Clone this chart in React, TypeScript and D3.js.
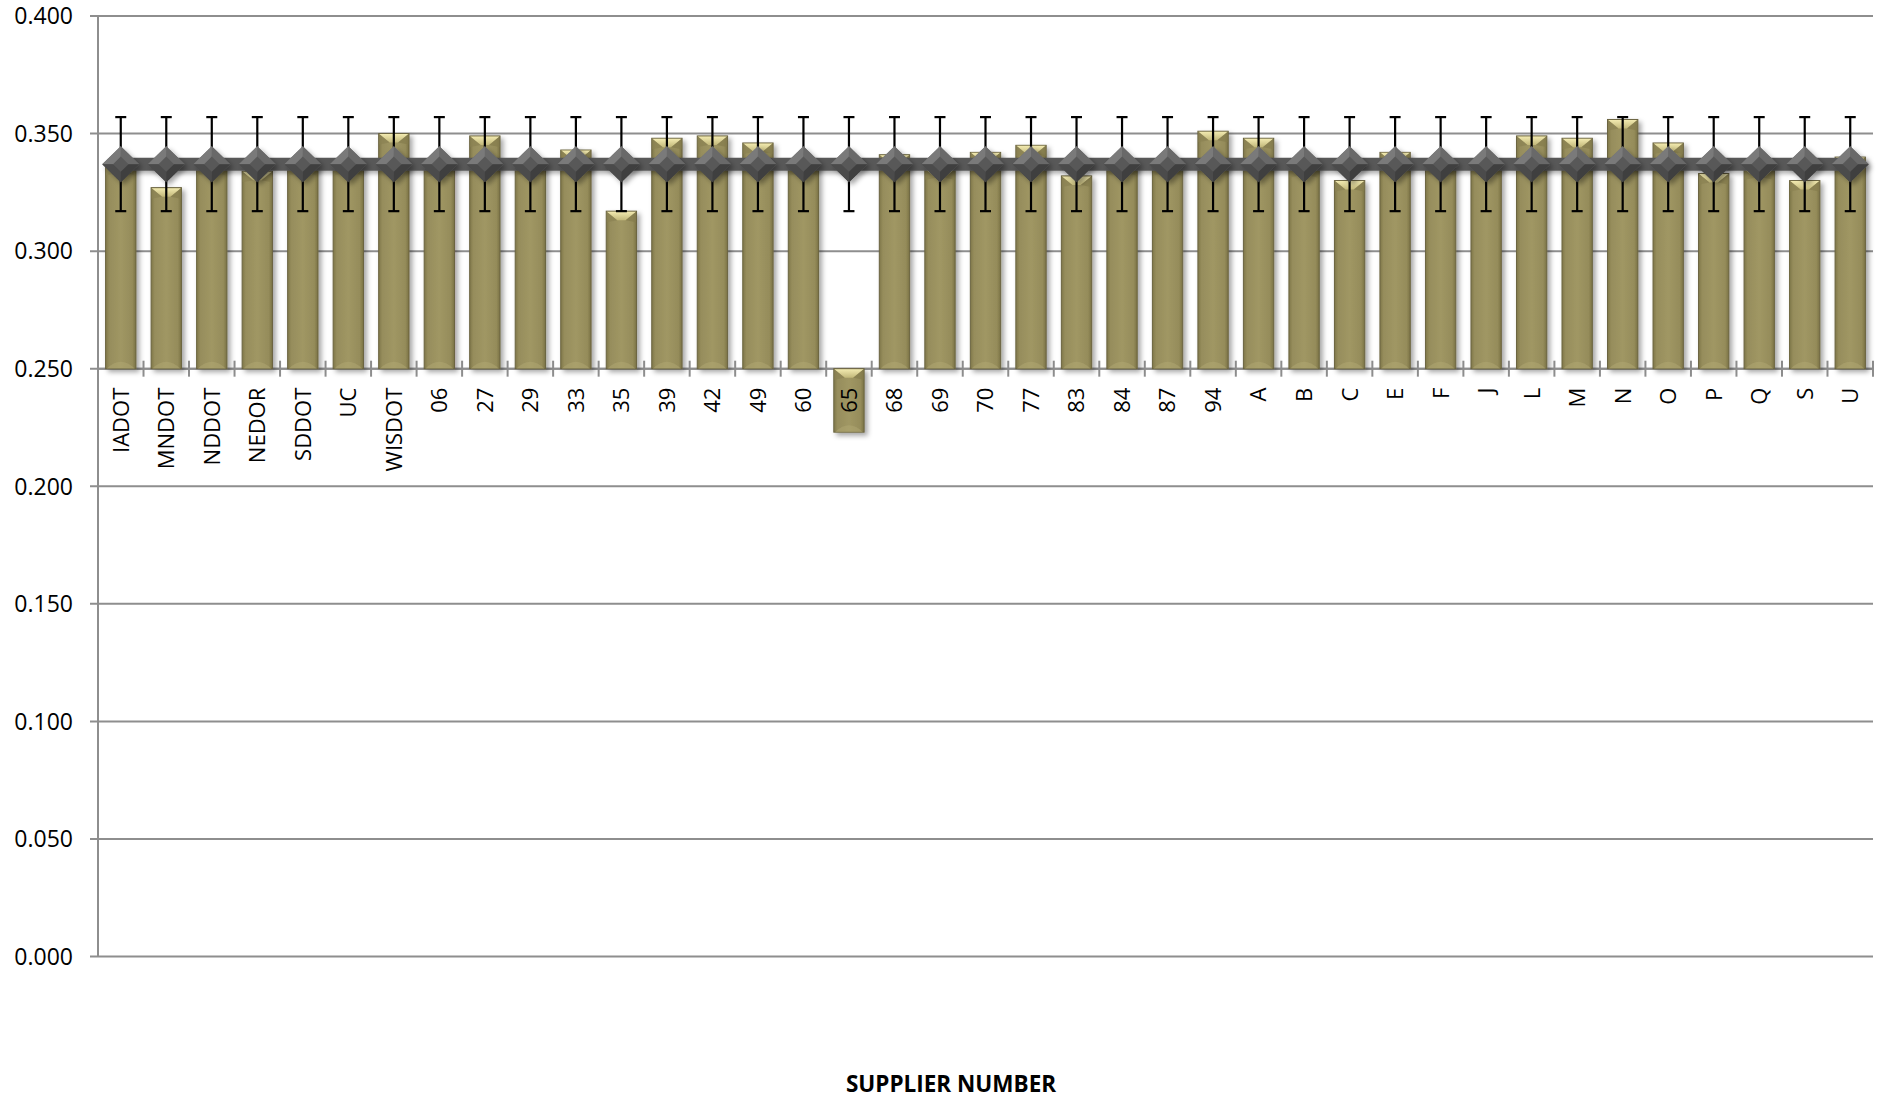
import React from "react"
import * as d3 from "d3"

// supplier categories along the bottom axis
const categories = [
    "IADOT", "MNDOT", "NDDOT", "NEDOR", "SDDOT", "UC", "WISDOT", "06", "27", "29",
    "33", "35", "39", "42", "49", "60", "65", "68", "69", "70",
    "77", "83", "84", "87", "94", "A", "B", "C", "E", "F",
    "J", "L", "M", "N", "O", "P", "Q", "S", "U",
]

// bar series
const supplierValues = [
    0.337, 0.327, 0.337, 0.334, 0.337, 0.337, 0.350, 0.336, 0.349, 0.337,
    0.343, 0.317, 0.348, 0.349, 0.346, 0.337, 0.223, 0.341, 0.335, 0.342,
    0.345, 0.332, 0.337, 0.337, 0.351, 0.348, 0.336, 0.330, 0.342, 0.337,
    0.337, 0.349, 0.348, 0.356, 0.346, 0.333, 0.335, 0.330, 0.340,
]

// line series: overall mean, with +/- error bars
const meanValues = [
    0.337, 0.337, 0.337, 0.337, 0.337, 0.337, 0.337, 0.337, 0.337, 0.337,
    0.337, 0.337, 0.337, 0.337, 0.337, 0.337, 0.337, 0.337, 0.337, 0.337,
    0.337, 0.337, 0.337, 0.337, 0.337, 0.337, 0.337, 0.337, 0.337, 0.337,
    0.337, 0.337, 0.337, 0.337, 0.337, 0.337, 0.337, 0.337, 0.337,
]
const meanError = 0.02

const yTicks = [0, 0.05, 0.1, 0.15, 0.2, 0.25, 0.3, 0.35, 0.4]
const axisCross = 0.25
const xTitle = "SUPPLIER NUMBER"

const width = 1884
const height = 1098
const margin = {top: 16, right: 11, bottom: 141.5, left: 98}
const font = "'Open Sans', 'DejaVu Sans', sans-serif"
const gridColor = "#8e8e8e"

const App = () => {
    const xScale = d3.scaleBand<string>()
        .domain(categories)
        .range([margin.left, width - margin.right])
        .paddingInner(1 / 3)
        .paddingOuter(1 / 6)
    const yScale = d3.scaleLinear()
        .domain([0, 0.4])
        .range([height - margin.bottom, margin.top])

    const bw = xScale.bandwidth()
    const step = xScale.step()
    const yBase = yScale(axisCross)
    const fmt = d3.format(".3f")

    const line = d3.line<number>()
        .x((_, i) => xScale(categories[i])! + bw / 2)
        .y(d => yScale(d))

    const dw = 18.5
    const dh = 18

    return (
        <svg width={width} height={height} style={{position: "absolute", left: 0, top: 0, background: "#fff"}}>
            <defs>
                <linearGradient id="barBody" x1="0" x2="1" y1="0" y2="0">
                    <stop offset="0" stopColor="#7f7749"/>
                    <stop offset="0.12" stopColor="#968d5c"/>
                    <stop offset="0.5" stopColor="#a09764"/>
                    <stop offset="0.88" stopColor="#958c5a"/>
                    <stop offset="1" stopColor="#7a7245"/>
                </linearGradient>
                <linearGradient id="bevelTop" x1="0" x2="0" y1="0" y2="1">
                    <stop offset="0" stopColor="#f2eab0"/>
                    <stop offset="1" stopColor="#c2b87a"/>
                </linearGradient>
                <linearGradient id="diamondGrad" x1="0" x2="0" y1="0" y2="1">
                    <stop offset="0" stopColor="#7c7c7c"/>
                    <stop offset="0.5" stopColor="#5a5a5a"/>
                    <stop offset="1" stopColor="#3a3a3a"/>
                </linearGradient>
                <filter id="shadow" x="-30%" y="-10%" width="160%" height="130%">
                    <feDropShadow dx="3" dy="3" stdDeviation="2.5" floodColor="#000" floodOpacity="0.35"/>
                </filter>
                <filter id="lineShadow" filterUnits="userSpaceOnUse" x={0} y={0} width={width} height={height}>
                    <feDropShadow dx="2" dy="3" stdDeviation="2" floodColor="#000" floodOpacity="0.3"/>
                </filter>
            </defs>

            {/* horizontal gridlines + outside ticks */}
            {yTicks.map(t => (
                <g key={t}>
                    <line x1={margin.left - 8} x2={width - margin.right} y1={yScale(t)} y2={yScale(t)}
                          stroke={gridColor} strokeWidth={2}/>
                    <text x={73} y={yScale(t)} dy="0.36em" textAnchor="end" fontFamily={font}
                          fontSize={23} fill="#000">{fmt(t)}</text>
                </g>
            ))}
            <line x1={margin.left} x2={margin.left} y1={margin.top} y2={height - margin.bottom}
                  stroke={gridColor} strokeWidth={2}/>

            {/* category axis crossing at 0.250 */}
            <line x1={margin.left} x2={width - margin.right} y1={yBase} y2={yBase} stroke={gridColor} strokeWidth={2}/>
            {d3.range(categories.length + 1).map(i => {
                const x = margin.left + i * step
                return <line key={i} x1={x} x2={x} y1={yBase - 8} y2={yBase + 8} stroke={gridColor} strokeWidth={2}/>
            })}

            {/* bars */}
            {categories.map((c, i) => {
                const v = supplierValues[i]
                const x = xScale(c)!
                const yv = yScale(v)
                const top = Math.min(yv, yBase)
                const h = Math.abs(yv - yBase)
                const bh = Math.min(9, h / 2)
                const inset = bw * 0.36
                return (
                    <g key={c}>
                        <rect x={x} y={top} width={bw} height={h} fill="url(#barBody)" stroke="#6b6440"
                              strokeWidth={1} filter="url(#shadow)"/>
                        <path d={`M${x + 1},${top + h} Q${x + bw / 2},${top + h - 14} ${x + bw - 1},${top + h} Z`}
                              fill="#b3aa76" opacity={0.45}/>
                        <polygon
                            points={`${x + 0.5},${top + 0.5} ${x + bw - 0.5},${top + 0.5} ${x + bw - inset},${top + bh} ${x + inset},${top + bh}`}
                            fill="url(#bevelTop)"/>
                        <polygon points={`${x + 0.5},${top + 0.5} ${x + inset},${top + bh} ${x + 0.5},${top + bh + 2}`}
                                 fill="#8a8252" opacity={0.7}/>
                        <polygon
                            points={`${x + bw - 0.5},${top + 0.5} ${x + bw - inset},${top + bh} ${x + bw - 0.5},${top + bh + 2}`}
                            fill="#847c4d" opacity={0.7}/>
                    </g>
                )
            })}

            {/* mean line */}
            <path d={line(meanValues)!} fill="none" stroke="#595959" strokeWidth={13} filter="url(#lineShadow)"/>

            {/* error bars */}
            {categories.map((c, i) => {
                const cx = xScale(c)! + bw / 2
                const y1 = yScale(meanValues[i] + meanError)
                const y2 = yScale(meanValues[i] - meanError)
                return (
                    <g key={c} stroke="#000" strokeWidth={2.2}>
                        <line x1={cx} x2={cx} y1={y1} y2={y2}/>
                        <line x1={cx - 5.5} x2={cx + 5.5} y1={y1} y2={y1}/>
                        <line x1={cx - 5.5} x2={cx + 5.5} y1={y2} y2={y2}/>
                    </g>
                )
            })}

            {/* diamond markers */}
            {categories.map((c, i) => {
                const cx = xScale(c)! + bw / 2
                const cy = yScale(meanValues[i])
                const k = 0.42
                return (
                    <g key={c}>
                        <polygon points={`${cx},${cy - dh} ${cx + dw},${cy} ${cx},${cy + dh} ${cx - dw},${cy}`}
                                 fill="url(#diamondGrad)" filter="url(#shadow)"/>
                        <polygon points={`${cx - dw},${cy} ${cx},${cy - dh} ${cx},${cy}`} fill="#7a7a7a"/>
                        <polygon points={`${cx},${cy - dh} ${cx + dw},${cy} ${cx},${cy}`} fill="#696969"/>
                        <polygon points={`${cx + dw},${cy} ${cx},${cy + dh} ${cx},${cy}`} fill="#3f3f3f"/>
                        <polygon points={`${cx},${cy + dh} ${cx - dw},${cy} ${cx},${cy}`} fill="#4b4b4b"/>
                        <polygon
                            points={`${cx},${cy - dh * k} ${cx + dw * k},${cy} ${cx},${cy + dh * k} ${cx - dw * k},${cy}`}
                            fill="#585858"/>
                    </g>
                )
            })}

            {/* category labels */}
            {categories.map(c => {
                const cx = xScale(c)! + bw / 2
                return (
                    <text key={c} transform={`translate(${cx},${yBase + 19}) rotate(-90)`} dy="0.36em"
                          textAnchor="end" fontFamily={font} fontSize={22} fill="#000">{c}</text>
                )
            })}

            <text x={951} y={1092} textAnchor="middle" fontFamily={font} fontWeight="bold" fontSize={22.5}
                  fill="#000">{xTitle}</text>
        </svg>
    )
}

export default App
